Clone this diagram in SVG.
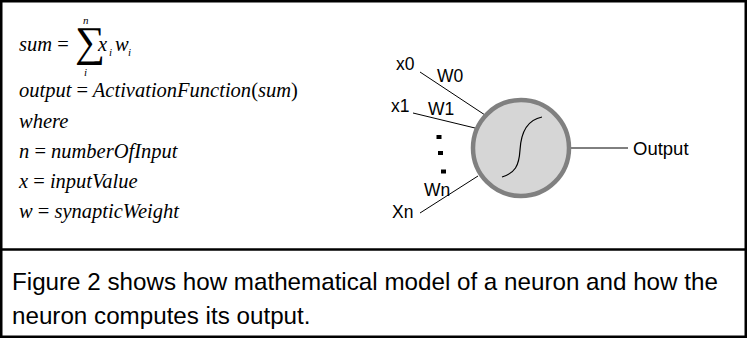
<svg xmlns="http://www.w3.org/2000/svg" width="747" height="338" viewBox="0 0 747 338">
<style>
.m{font-family:"Liberation Serif","Times New Roman",serif;font-style:italic;font-size:20.5px;fill:#000}
.u{font-style:normal}
.s{font-size:11px}
.lbl{font-family:"Liberation Sans",Arial,Helvetica,sans-serif;font-size:17.5px;fill:#000}
.cap{font-family:"Liberation Sans",Arial,Helvetica,sans-serif;font-size:24.2px;fill:#000}
.ln{stroke:#000;stroke-width:1;fill:none}
</style>
<rect x="0" y="0" width="747" height="338" fill="#fff"/>
<rect x="1.25" y="1.25" width="744.5" height="335.5" fill="none" stroke="#000" stroke-width="2.5"/>
<line x1="0" y1="249.5" x2="747" y2="249.5" stroke="#000" stroke-width="2.5"/>
<g id="formulas">
<text class="m" x="19" y="51">sum <tspan class="u">=</tspan></text>
<text class="m u" x="75" y="56" style="font-size:42px;font-style:normal">∑</text>
<text class="m s" x="83" y="24">n</text>
<text class="m s" x="84" y="76">i</text>
<text class="m" x="98" y="51">x</text>
<text class="m s" x="109" y="56">i</text>
<text class="m" x="115" y="51">w</text>
<text class="m s" x="128" y="56">i</text>
<text class="m" x="19" y="97">output <tspan class="u">=</tspan> ActivationFunction<tspan class="u">(</tspan>sum<tspan class="u">)</tspan></text>
<text class="m" x="19" y="128">where</text>
<text class="m" x="19" y="158">n <tspan class="u">=</tspan> numberOfInput</text>
<text class="m" x="19" y="188">x <tspan class="u">=</tspan> inputValue</text>
<text class="m" x="19" y="218">w <tspan class="u">=</tspan> synapticWeight</text>
</g>
<g id="connectors">
<line class="ln" x1="420" y1="72" x2="485" y2="115"/>
<line class="ln" x1="413" y1="113" x2="475" y2="128"/>
<line class="ln" x1="420" y1="213" x2="478" y2="176"/>
<line class="ln" x1="571" y1="148" x2="628" y2="148"/>
</g>
<g id="neuron">
<circle cx="521" cy="148" r="48" fill="#d6d6d6" stroke="#808080" stroke-width="4.5"/>
<path d="M502,177 C515,173 519,166 520,150 C521,132 527,120 542,117" fill="none" stroke="#000" stroke-width="1.2"/>
</g>
<g id="labels">
<text class="lbl" x="396" y="70">x0</text>
<text class="lbl" x="437" y="82">W0</text>
<text class="lbl" x="391" y="112">x1</text>
<text class="lbl" x="428" y="115">W1</text>
<rect x="436.5" y="135" width="5" height="4" fill="#000"/>
<rect x="438" y="151" width="5" height="4" fill="#000"/>
<rect x="441" y="169.5" width="5" height="4" fill="#000"/>
<text class="lbl" x="424" y="196">Wn</text>
<text class="lbl" x="392" y="218">Xn</text>
<text class="lbl" x="633" y="155" style="font-size:18.5px">Output</text>
</g>
<g id="caption">
<text class="cap" x="12" y="290">Figure 2 shows how mathematical model of a neuron and how the</text>
<text class="cap" x="12" y="324">neuron computes its output.</text>
</g>
</svg>
